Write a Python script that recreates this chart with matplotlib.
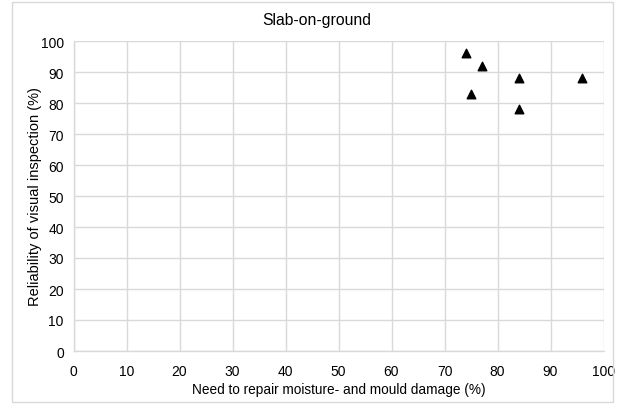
import matplotlib
matplotlib.use("Agg")
import matplotlib.pyplot as plt
from matplotlib.patches import Rectangle

plt.rcParams['font.family'] = ['Liberation Sans', 'DejaVu Sans']

need_repair = [74, 77, 75, 84, 84, 96]
reliability = [96, 92, 83, 88, 78, 88]
x_ticks = list(range(0, 101, 10))
y_ticks = list(range(0, 101, 10))

fig = plt.figure(figsize=(6.25, 4.06), dpi=100)
ax = fig.add_axes([73.5/625, 1-352/406, 530/625, 310/406])

grid_c = '#d9d9d9'
ax.scatter(need_repair, reliability, marker='^', s=38, color='black', zorder=3, clip_on=False)
ax.set_xlim(0, 100)
ax.set_ylim(0, 100)
ax.set_xticks(x_ticks)
ax.set_yticks(y_ticks)
ax.grid(True, color=grid_c, linewidth=1)
ax.set_axisbelow(True)
for s in ['top', 'right']:
    ax.spines[s].set_visible(False)
for s in ['left', 'bottom']:
    ax.spines[s].set_color(grid_c)
    ax.spines[s].set_linewidth(1)
ax.tick_params(length=0, labelsize=10, colors='black')
ax.tick_params(axis='x', pad=9)
ax.tick_params(axis='y', pad=7)
ax.set_xlabel('Need to repair moisture- and mould damage (%)', fontsize=9.8, labelpad=3)
ax.set_ylabel('Reliability of visual inspection (%)', fontsize=10.5, labelpad=-1)
fig.text(317/625, 1-21/406, 'Slab-on-ground', fontsize=11.3, ha='center', va='center')

fig.patches.append(Rectangle((12/625, 3/406), 601/625, 400/406, transform=fig.transFigure,
                             fill=False, edgecolor=grid_c, linewidth=1))
fig.savefig('out.png', dpi=100)
